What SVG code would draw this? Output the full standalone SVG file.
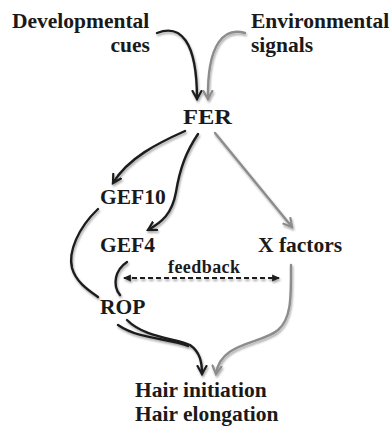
<svg xmlns="http://www.w3.org/2000/svg" width="391" height="426" viewBox="0 0 391 426">
<defs>
<style>
.t{font-family:"Liberation Serif","Times New Roman",serif;font-weight:bold;font-size:21.5px;fill:#1a1a1a}
.fb{font-size:18px}
.k{fill:none;stroke:#1e1e1e;stroke-width:2.4;stroke-linecap:round}
.g{fill:none;stroke:#8c8c8c;stroke-width:2.4;stroke-linecap:round}
.d{fill:none;stroke:#1e1e1e;stroke-width:2.2;stroke-dasharray:5 3}
</style>
<filter id="sh" x="-20%" y="-20%" width="140%" height="140%">
<feGaussianBlur in="SourceAlpha" stdDeviation="1.2"/>
<feOffset dx="1" dy="1.5" result="b"/>
<feComponentTransfer><feFuncA type="linear" slope="0.35"/></feComponentTransfer>
<feMerge><feMergeNode/><feMergeNode in="SourceGraphic"/></feMerge>
</filter>
<marker id="ak" markerWidth="12" markerHeight="12" refX="9" refY="5" orient="auto" markerUnits="userSpaceOnUse" viewBox="0 0 12 10">
<path d="M1,0.5 L9,5 L1,9.5" fill="none" stroke="#1e1e1e" stroke-width="2.2" stroke-linecap="round" stroke-linejoin="miter"/>
</marker>
<marker id="ag" markerWidth="12" markerHeight="12" refX="9" refY="5" orient="auto" markerUnits="userSpaceOnUse" viewBox="0 0 12 10">
<path d="M1,0.5 L9,5 L1,9.5" fill="none" stroke="#8c8c8c" stroke-width="2.2" stroke-linecap="round" stroke-linejoin="miter"/>
</marker>
<marker id="af" markerWidth="8" markerHeight="8" refX="6" refY="3" orient="auto-start-reverse" markerUnits="userSpaceOnUse" viewBox="0 0 7 6">
<path d="M0,0 L7,3 L0,6 Z" fill="#1e1e1e"/>
</marker>
</defs>
<rect width="391" height="426" fill="#ffffff"/>
<g id="connectors" filter="url(#sh)">
<path class="k" d="M157,33 C180,24 197,40 197,99" marker-end="url(#ak)"/>
<path class="g" d="M245,33 C225,27 207,42 208,99" marker-end="url(#ag)"/>
<path class="k" d="M185,131 C158,143 128,158 113,183" marker-end="url(#ak)"/>
<path class="k" d="M198,134 C186,152 180,168 176,192 C172,214 162,222 148,230" marker-end="url(#ak)"/>
<path class="g" d="M215,133 L292,227" marker-end="url(#ag)"/>
<path class="k" d="M98,209 C78,228 68,252 72,268 C76,282 88,290 98,297"/>
<path class="k" d="M127,262 C115,270 112,285 120,295"/>
<path class="d" d="M124,278 L279,278" marker-start="url(#af)" marker-end="url(#af)"/>
<path class="k" d="M118,325 C140,340 170,338 188,346"/>
<path class="k" d="M127,320 C145,338 175,338 190,345 C200,352 202,362 202,374" marker-end="url(#ak)"/>
<path class="g" d="M291,265 C291,295 292,318 278,330 C262,344 220,342 216,374" marker-end="url(#ag)"/>
</g>
<g id="developmental"><text class="t" x="12" y="28">Developmental</text><text class="t" x="150" y="52" text-anchor="end">cues</text></g>
<g id="environmental"><text class="t" x="251" y="28">Environmental</text><text class="t" x="251" y="52">signals</text></g>
<g id="fer"><text class="t" x="183" y="124" textLength="49" lengthAdjust="spacingAndGlyphs">FER</text></g>
<g id="gef10"><text class="t" x="100" y="204">GEF10</text></g>
<g id="gef4"><text class="t" x="100" y="252">GEF4</text></g>
<g id="xfactors"><text class="t" x="258" y="252">X factors</text></g>
<g id="feedback"><text class="t fb" x="168" y="273" textLength="72">feedback</text></g>
<g id="rop"><text class="t" x="100" y="314">ROP</text></g>
<g id="hair"><text class="t" x="135" y="397">Hair initiation</text><text class="t" x="135" y="421">Hair elongation</text></g>
</svg>
